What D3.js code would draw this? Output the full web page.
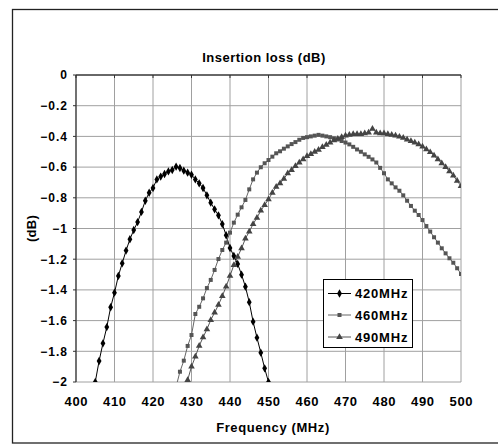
<!DOCTYPE html>
<html>
<head>
<meta charset="utf-8">
<script src="https://cdn.jsdelivr.net/npm/d3@7"></script>
<style>
  body { margin: 0; background: #fff; }
  text { font-family: "Liberation Sans", Arial, sans-serif; font-weight: bold; fill: #000; }
</style>
</head>
<body>
<script>
// data (MHz, dB)
const freq420 = [405,406,407,408,409,410,411,412,413,414,415,416,417,418,419,420,421,422,423,424,425,426,427,428,429,430,431,432,433,434,435,436,437,438,439,440,441,442,443,444,445,446,447,448,449,450];
const loss420 = [-2.0,-1.863,-1.748,-1.642,-1.513,-1.418,-1.309,-1.227,-1.144,-1.07,-1.01,-0.958,-0.892,-0.819,-0.767,-0.736,-0.68,-0.662,-0.645,-0.628,-0.619,-0.597,-0.606,-0.623,-0.636,-0.65,-0.68,-0.706,-0.736,-0.784,-0.832,-0.875,-0.914,-0.971,-1.044,-1.127,-1.179,-1.231,-1.301,-1.379,-1.48,-1.607,-1.711,-1.809,-1.911,-2.0];

const freq460 = [426,427,428,429,430,431,432,433,434,435,436,437,438,439,440,441,442,443,444,445,446,447,448,449,450,451,452,453,454,455,456,457,458,459,460,461,462,463,464,465,466,467,468,469,470,471,472,473,474,475,476,477,478,479,480,481,482,483,484,485,486,487,488,489,490,491,492,493,494,495,496,497,498,499,500];
const loss460 = [-2.03,-1.933,-1.861,-1.765,-1.694,-1.557,-1.51,-1.455,-1.388,-1.335,-1.27,-1.199,-1.14,-1.092,-1.027,-0.962,-0.91,-0.862,-0.814,-0.745,-0.68,-0.636,-0.601,-0.575,-0.554,-0.532,-0.51,-0.497,-0.48,-0.465,-0.45,-0.437,-0.422,-0.41,-0.405,-0.4,-0.395,-0.39,-0.395,-0.4,-0.405,-0.413,-0.42,-0.43,-0.44,-0.452,-0.468,-0.485,-0.5,-0.517,-0.533,-0.55,-0.57,-0.605,-0.64,-0.68,-0.706,-0.732,-0.754,-0.784,-0.819,-0.853,-0.884,-0.912,-0.945,-0.984,-1.02,-1.057,-1.092,-1.129,-1.162,-1.194,-1.223,-1.259,-1.296];

const freq490 = [428,429,430,431,432,433,434,435,436,437,438,439,440,441,442,443,444,445,446,447,448,449,450,451,452,453,454,455,456,457,458,459,460,461,462,463,464,465,466,467,468,469,470,471,472,473,474,475,476,477,478,479,480,481,482,483,484,485,486,487,488,489,490,491,492,493,494,495,496,497,498,499,500];
const loss490 = [-2.07,-1.987,-1.9,-1.835,-1.765,-1.709,-1.657,-1.596,-1.548,-1.498,-1.44,-1.379,-1.309,-1.238,-1.184,-1.129,-1.066,-1.02,-0.971,-0.93,-0.884,-0.847,-0.81,-0.767,-0.728,-0.706,-0.676,-0.641,-0.619,-0.593,-0.571,-0.549,-0.528,-0.515,-0.5,-0.487,-0.47,-0.455,-0.44,-0.425,-0.415,-0.405,-0.395,-0.39,-0.385,-0.385,-0.385,-0.38,-0.375,-0.35,-0.375,-0.38,-0.38,-0.385,-0.39,-0.395,-0.402,-0.41,-0.42,-0.43,-0.44,-0.452,-0.467,-0.485,-0.503,-0.525,-0.55,-0.575,-0.6,-0.627,-0.655,-0.69,-0.723];

const seriesNames = ["420MHz", "460MHz", "490MHz"];
const xTicks = [400,410,420,430,440,450,460,470,480,490,500];
const yTicks = [0,-0.2,-0.4,-0.6,-0.8,-1,-1.2,-1.4,-1.6,-1.8,-2];

const width = 498, height = 445;
const svg = d3.select("body").append("svg")
    .attr("width", width)
    .attr("height", height);

// outer chart frame (right edge runs off the picture)
svg.append("rect")
    .attr("x", 12.5).attr("y", 9.5)
    .attr("width", 600).attr("height", 433.5)
    .attr("fill", "none").attr("stroke", "#222").attr("stroke-width", 1.3);

const x = d3.scaleLinear().domain([400, 500]).range([76, 461]);
const y = d3.scaleLinear().domain([0, -2]).range([75, 382]);

const g = svg.append("g");

// grid
g.selectAll(".gx").data(xTicks).enter().append("line")
    .attr("x1", d => x(d)).attr("x2", d => x(d))
    .attr("y1", y(0)).attr("y2", y(-2))
    .attr("stroke", "#a0a0a0");
g.selectAll(".gy").data(yTicks).enter().append("line")
    .attr("x1", x(400)).attr("x2", x(500))
    .attr("y1", d => y(d)).attr("y2", d => y(d))
    .attr("stroke", "#a0a0a0");

// category axis sits at 0 (top), ticks point down
g.append("line")
    .attr("x1", x(400)).attr("x2", x(500))
    .attr("y1", y(0)).attr("y2", y(0))
    .attr("stroke", "#000").attr("stroke-width", 1.2);
g.selectAll(".tx").data(xTicks).enter().append("line")
    .attr("x1", d => x(d)).attr("x2", d => x(d))
    .attr("y1", y(0)).attr("y2", y(0) + 3)
    .attr("stroke", "#333");

// value axis on the left
g.append("line")
    .attr("x1", x(400)).attr("x2", x(400))
    .attr("y1", y(0)).attr("y2", y(-2))
    .attr("stroke", "#333").attr("stroke-width", 1.2);
g.selectAll(".ty").data(yTicks).enter().append("line")
    .attr("x1", x(400) - 3).attr("x2", x(400))
    .attr("y1", d => y(d)).attr("y2", d => y(d))
    .attr("stroke", "#333");

// tick labels
g.selectAll(".lx").data(xTicks).enter().append("text")
    .attr("x", d => x(d) + 0.3).attr("y", 406)
    .attr("text-anchor", "middle")
    .style("font-size", "13px").style("letter-spacing", "0.6px")
    .text(d => d);
g.selectAll(".ly").data(yTicks).enter().append("text")
    .attr("x", 68).attr("y", d => y(d))
    .attr("dy", "0.36em")
    .attr("text-anchor", "end")
    .style("font-size", "12px").style("letter-spacing", "1px")
    .text(d => d3.format("")(d));

// titles
svg.append("text")
    .attr("x", 264).attr("y", 62)
    .attr("text-anchor", "middle")
    .style("font-size", "13px").style("letter-spacing", "0.5px")
    .text("Insertion loss (dB)");
svg.append("text")
    .attr("x", 273).attr("y", 431.5)
    .attr("text-anchor", "middle")
    .style("font-size", "13px").style("letter-spacing", "0.6px")
    .text("Frequency (MHz)");
svg.append("text")
    .attr("transform", "translate(36,228.5) rotate(-90)")
    .attr("text-anchor", "middle")
    .style("font-size", "13px").style("letter-spacing", "0.3px")
    .text("(dB)");

// series
svg.append("clipPath").attr("id", "plot")
  .append("rect")
    .attr("x", x(400)).attr("y", y(0))
    .attr("width", x(500) - x(400)).attr("height", y(-2) - y(0));

const series = [
  { name: seriesNames[0], f: freq420, v: loss420, line: "#000", mark: "#000", sym: d3.symbolDiamond, size: 20 },
  { name: seriesNames[1], f: freq460, v: loss460, line: "#666", mark: "#555", sym: d3.symbolSquare, size: 16 },
  { name: seriesNames[2], f: freq490, v: loss490, line: "#555", mark: "#444", sym: d3.symbolTriangle, size: 19 }
];

const line = d3.line().x(d => x(d[0])).y(d => y(d[1]));
const plot = svg.append("g").attr("clip-path", "url(#plot)");

series.forEach(s => {
  const pts = s.f.map((f, i) => [f, s.v[i]]);
  plot.append("path")
      .attr("d", line(pts))
      .attr("fill", "none")
      .attr("stroke", s.line)
      .attr("stroke-width", 1);
  plot.selectAll(null).data(pts.filter(p => p[1] >= -2.001)).enter().append("path")
      .attr("transform", p => `translate(${x(p[0])},${y(p[1])})`)
      .attr("d", d3.symbol().type(s.sym).size(s.size))
      .attr("fill", s.mark);
});

// legend
const lg = svg.append("g");
lg.append("rect")
    .attr("x", 323.5).attr("y", 279.5)
    .attr("width", 89).attr("height", 68)
    .attr("fill", "#fff").attr("stroke", "#000");
const rows = [293.5, 315, 337];
series.forEach((s, i) => {
  lg.append("line")
      .attr("x1", 328).attr("x2", 351)
      .attr("y1", rows[i]).attr("y2", rows[i])
      .attr("stroke", s.line);
  lg.append("path")
      .attr("transform", `translate(339.5,${rows[i]})`)
      .attr("d", d3.symbol().type(s.sym).size(s.size))
      .attr("fill", s.mark);
  lg.append("text")
      .attr("x", 355).attr("y", rows[i])
      .attr("dy", "0.36em")
      .style("font-size", "13px").style("letter-spacing", "0.8px")
      .text(s.name);
});
</script>
</body>
</html>
